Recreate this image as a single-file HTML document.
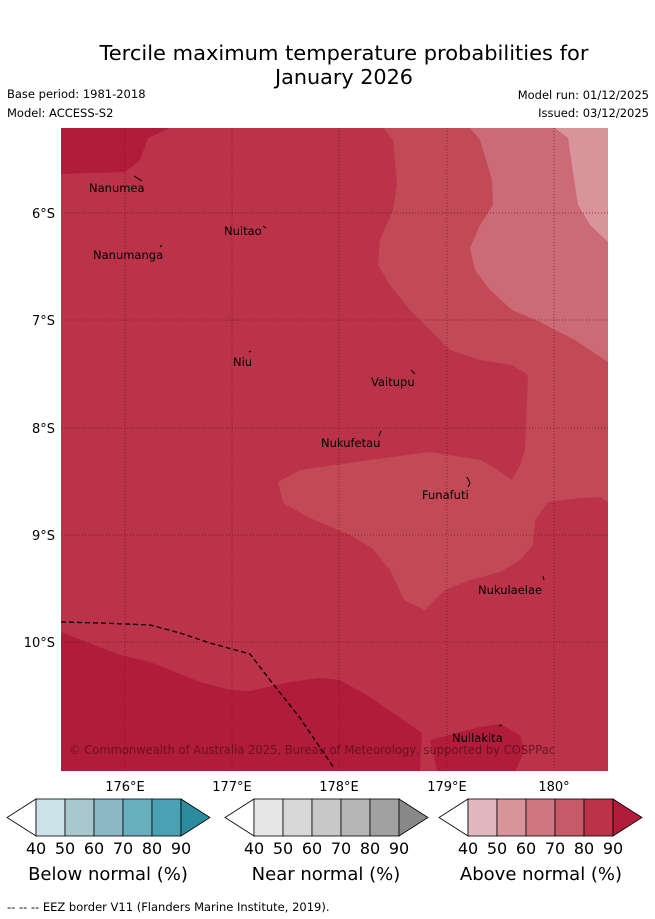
<!DOCTYPE html>
<html><head><meta charset="utf-8"><style>
body{margin:0;background:#fff;width:655px;height:919px;overflow:hidden;font-family:"DejaVu Sans","Liberation Sans",sans-serif;}
svg{display:block}
</style></head><body>
<svg width="655" height="919" viewBox="0 0 655 919" xmlns="http://www.w3.org/2000/svg" font-family="DejaVu Sans, Liberation Sans, sans-serif">
<g font-size="20" text-anchor="middle" fill="#000">
<text x="344" y="60" textLength="489" lengthAdjust="spacingAndGlyphs">Tercile maximum temperature probabilities for</text>
<text x="344" y="84" textLength="138" lengthAdjust="spacingAndGlyphs">January 2026</text></g>
<g font-size="11.5" fill="#000">
<text x="7" y="98">Base period: 1981-2018</text>
<text x="7" y="117">Model: ACCESS-S2</text>
<text x="649" y="99" text-anchor="end">Model run: 01/12/2025</text>
<text x="649" y="117" text-anchor="end">Issued: 03/12/2025</text>
</g>
<defs><clipPath id="mc"><rect x="61" y="128" width="547" height="643"/></clipPath></defs>
<g clip-path="url(#mc)">
<rect x="61" y="128" width="547" height="643" fill="#bb3349"/>
<polygon fill="#c24a56" points="383,128 393,140 397,185 393,210 380,240 378,265 390,285 410,310 430,330 450,350 480,360 512,365 528,375 525,450 520,465 512,480 495,468 480,460 430,452 370,460 300,470 278,482 283,503 310,518 350,535 372,548 390,570 404,600 425,610 445,590 470,580 500,572 520,560 533,545 535,520 548,502 580,498 600,497 608,502 608,128"/>
<polygon fill="#cc6b75" points="470,128 480,140 492,180 493,205 480,225 470,248 475,270 490,290 512,310 540,322 575,340 608,362 608,128"/>
<polygon fill="#d8939b" points="555,128 568,138 572,165 578,205 590,225 608,242 608,128"/>
<polygon fill="#b01c3a" points="61,128 170,128 148,138 140,160 125,172 61,174"/>
<polygon fill="#b01c3a" points="61,632 120,655 150,662 200,682 230,690 250,691 290,682 320,678 340,680 370,697 400,718 422,733 420,771 61,771"/>
<polygon fill="#b01c3a" points="430,740 480,727 500,724 520,735 525,750 515,771 437,771"/>
<g stroke="#6a1020" stroke-width="1" stroke-dasharray="1,2" opacity="0.7">
<line x1="125" y1="128" x2="125" y2="771"/><line x1="232" y1="128" x2="232" y2="771"/><line x1="339" y1="128" x2="339" y2="771"/><line x1="447" y1="128" x2="447" y2="771"/><line x1="554" y1="128" x2="554" y2="771"/>
<line x1="61" y1="213" x2="608" y2="213"/><line x1="61" y1="320" x2="608" y2="320"/><line x1="61" y1="428" x2="608" y2="428"/><line x1="61" y1="535" x2="608" y2="535"/><line x1="61" y1="642" x2="608" y2="642"/>
</g>
<polyline fill="none" stroke="#000" stroke-width="1.3" stroke-dasharray="5,3" points="61,622 100,623 150,625 180,633 210,643 250,654 270,680 300,718 334,768"/>
<g font-size="11.5" fill="#000">
<text x="89" y="192">Nanumea</text><path d="M134,176 L142,181" stroke="#000"/>
<text x="224" y="235">Nuitao</text><path d="M263,226 L266,228" stroke="#000"/>
<text x="93" y="259">Nanumanga</text><path d="M160,247 L162,245" stroke="#000"/>
<text x="233" y="366">Niu</text><path d="M249,352 L251,351" stroke="#000"/>
<text x="371" y="386">Vaitupu</text><path d="M411,370 L415,374" stroke="#000"/>
<text x="321" y="447">Nukufetau</text><path d="M379,436 L381,431" stroke="#000"/>
<text x="422" y="499">Funafuti</text><path d="M467,477 L470,483 L468,487" stroke="#000" fill="none"/>
<text x="478" y="594">Nukulaelae</text><path d="M543,576 L544,580" stroke="#000"/>
<text x="452" y="742">Nuilakita</text><path d="M499,726 L502,725" stroke="#000"/>
</g>
<text x="69" y="754" font-size="12" fill="#5a0e1c" opacity="0.8" textLength="486" lengthAdjust="spacingAndGlyphs">© Commonwealth of Australia 2025, Bureau of Meteorology, supported by COSPPac</text>
</g>
<g font-size="13" fill="#000" text-anchor="end">
<text x="55" y="218">6°S</text><text x="55" y="325">7°S</text><text x="55" y="433">8°S</text><text x="55" y="540">9°S</text><text x="55" y="647">10°S</text>
</g>
<g font-size="13" fill="#000" text-anchor="middle">
<text x="125" y="791">176°E</text><text x="232" y="791">177°E</text><text x="339" y="791">178°E</text><text x="447" y="791">179°E</text><text x="554" y="791">180°</text>
</g>
<g stroke="#000" stroke-width="0.8">
<polygon points="36,799 7,817.5 36,836" fill="#fff"/>
<rect x="36" y="799" width="29" height="37" fill="#cce3ea"/><rect x="65" y="799" width="29" height="37" fill="#a9c8cd"/><rect x="94" y="799" width="29" height="37" fill="#8bb8c4"/><rect x="123" y="799" width="29" height="37" fill="#6aafbe"/><rect x="152" y="799" width="29" height="37" fill="#49a2b3"/>
<polygon points="181,799 210,817.5 181,836" fill="#2b8c9f"/>
</g>
<g stroke="#000" stroke-width="0.8">
<polygon points="254,799 225,817.5 254,836" fill="#fff"/>
<rect x="254" y="799" width="29" height="37" fill="#e6e6e6"/><rect x="283" y="799" width="29" height="37" fill="#d8d8d8"/><rect x="312" y="799" width="29" height="37" fill="#c8c8c8"/><rect x="341" y="799" width="29" height="37" fill="#b5b5b5"/><rect x="370" y="799" width="29" height="37" fill="#a1a1a1"/>
<polygon points="399,799 428,817.5 399,836" fill="#888"/>
</g>
<g stroke="#000" stroke-width="0.8">
<polygon points="468,799 439,817.5 468,836" fill="#fff"/>
<rect x="468" y="799" width="29" height="37" fill="#e3b7bf"/><rect x="497" y="799" width="29" height="37" fill="#d8939b"/><rect x="526" y="799" width="29" height="37" fill="#cf7781"/><rect x="555" y="799" width="29" height="37" fill="#c65a69"/><rect x="584" y="799" width="29" height="37" fill="#bb3349"/>
<polygon points="613,799 642,817.5 613,836" fill="#b01c3a"/>
</g>
<g font-size="16" fill="#000" text-anchor="middle">
<text x="36" y="854">40</text><text x="65" y="854">50</text><text x="94" y="854">60</text><text x="123" y="854">70</text><text x="152" y="854">80</text><text x="181" y="854">90</text>
<text x="254" y="854">40</text><text x="283" y="854">50</text><text x="312" y="854">60</text><text x="341" y="854">70</text><text x="370" y="854">80</text><text x="399" y="854">90</text>
<text x="468" y="854">40</text><text x="497" y="854">50</text><text x="526" y="854">60</text><text x="555" y="854">70</text><text x="584" y="854">80</text><text x="613" y="854">90</text>
</g>
<g font-size="18" fill="#000" text-anchor="middle">
<text x="108" y="880">Below normal (%)</text><text x="326" y="880">Near normal (%)</text><text x="541" y="880">Above normal (%)</text>
</g>
<text x="7" y="911" font-size="11.5" fill="#000">--  --  -- EEZ border V11 (Flanders Marine Institute, 2019).</text>
</svg>
</body></html>
